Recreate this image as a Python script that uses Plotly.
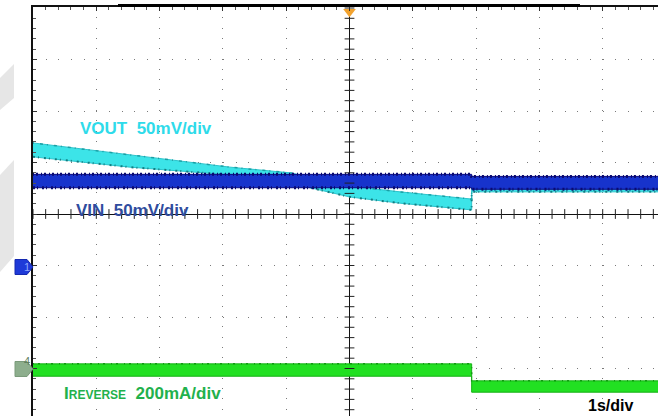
import numpy as np
import plotly.graph_objects as go

# ---------------- data (screen divisions; x: 1 s/div, centre = trigger) -------------
time_vout = [-5.0, -3.47, -1.89, -0.94, 0.01, 0.80, 1.93, 1.93, 4.9]
vout_upper = [1.38, 1.15, 0.91, 0.80, 0.54, 0.43, 0.29, 0.62, 0.62]
vout_lower = [1.11, 0.91, 0.76, 0.60, 0.33, 0.21, 0.08, 0.43, 0.43]

time_vin = [-5.0, 1.93, 1.93, 4.9]
vin_upper = [0.77, 0.77, 0.73, 0.73]
vin_lower = [0.51, 0.51, 0.48, 0.48]

time_irev = [-5.0, 1.93, 1.93, 4.9]
irev_upper = [-2.91, -2.91, -3.24, -3.24]
irev_lower = [-3.15, -3.15, -3.46, -3.46]

labels = ["VOUT  50mV/div", "VIN  50mV/div", "200mA/div", "1s/div"]

# ---------------- layout geometry ----------------
W, H = 658, 416
ML, MT = 33, 7
PW, PH = W - ML, H - MT
X_C, X_DIV = 349.5, 63.3
Y_C, Y_DIV = 214.0, 51.5
XR = [(ML - X_C) / X_DIV, (W - X_C) / X_DIV]
YR = [(Y_C - H) / Y_DIV, (Y_C - MT) / Y_DIV]


def tx(px):
    return (px - X_C) / X_DIV


def ty(py):
    return (Y_C - py) / Y_DIV


def pxp(px):
    return (px - ML) / PW


def pyp(py):
    return (H - py) / PH


def band(t, up, lo):
    return list(t) + list(t)[::-1], list(up) + list(lo)[::-1]


def edge(t, y, color, width, dash):
    return go.Scatter(x=t, y=y, mode="lines", line=dict(color=color, width=width, dash=dash),
                      hoverinfo="skip", showlegend=False)


fig = go.Figure()

bx, by = band(time_vout, vout_upper, vout_lower)
fig.add_trace(go.Scatter(x=bx, y=by, fill="toself", fillcolor="#3CE4E8",
                         line=dict(color="#2AC4CC", width=1), mode="lines",
                         hoverinfo="skip", showlegend=False))
fig.add_trace(edge(time_vout, vout_lower, "#137C80", 2, "2px,3px,1px,5px"))
fig.add_trace(edge(time_vout, vout_upper, "#1A9FA4", 1.5, "1px,6px,3px,4px"))

bx, by = band(time_vin, vin_upper, vin_lower)
fig.add_trace(go.Scatter(x=bx, y=by, fill="toself", fillcolor="#1733CC",
                         line=dict(color="#0A0A80", width=1), mode="lines",
                         hoverinfo="skip", showlegend=False))
fig.add_trace(edge(time_vin, vin_upper, "#0A0A70", 3, "1px,2px,2px,3px"))
fig.add_trace(edge(time_vin, vin_lower, "#0A0A70", 3, "2px,2px,1px,4px"))

bx, by = band(time_irev, irev_upper, irev_lower)
fig.add_trace(go.Scatter(x=bx, y=by, fill="toself", fillcolor="#22E022",
                         line=dict(color="#16B016", width=1), mode="lines",
                         hoverinfo="skip", showlegend=False))
fig.add_trace(edge(time_irev, irev_upper, "#139A13", 1.5, "1px,4px,2px,6px"))

# centre-axis minor ticks
hx = np.arange(-5.0, 5.0, 0.2)
fig.add_trace(go.Scatter(x=hx, y=np.zeros_like(hx), mode="markers",
                         marker=dict(symbol="line-ns", size=7,
                                     line=dict(color="#222", width=1)),
                         hoverinfo="skip", showlegend=False))
vy = np.arange(-3.8, 4.01, 0.2)
fig.add_trace(go.Scatter(x=np.zeros_like(vy), y=vy, mode="markers",
                         marker=dict(symbol="line-ew", size=7,
                                     line=dict(color="#222", width=1)),
                         hoverinfo="skip", showlegend=False))

# trigger marker
fig.add_trace(go.Scatter(x=[0], y=[YR[1] - 0.09], mode="markers", cliponaxis=False,
                         marker=dict(symbol="triangle-down", size=11, color="#F2A22E",
                                     line=dict(width=0)),
                         hoverinfo="skip", showlegend=False))

shapes = []
# watermark grey shapes on the left
for pts in ([(0, 78), (14, 64), (14, 98), (0, 110)],
            [(0, 175), (14, 160), (14, 256), (0, 272)]):
    path = "M " + " L ".join(f"{pxp(a):.5f},{pyp(b):.5f}" for a, b in pts) + " Z"
    shapes.append(dict(type="path", path=path, xref="paper", yref="paper",
                       fillcolor="#E6E6E6", line=dict(width=0), layer="below"))

# record bar on top
shapes.append(dict(type="line", xref="paper", yref="paper",
                   x0=pxp(118), x1=pxp(580), y0=pyp(5.5), y1=pyp(5.5),
                   line=dict(color="black", width=3)))


def chan_marker(yc, fill, edge_c):
    pts = [(15, yc - 7.5), (27, yc - 7.5), (33, yc), (27, yc + 7.5), (15, yc + 7.5)]
    path = "M " + " L ".join(f"{pxp(a):.5f},{pyp(b):.5f}" for a, b in pts) + " Z"
    return dict(type="path", path=path, xref="paper", yref="paper",
                fillcolor=fill, line=dict(color=edge_c, width=1))


shapes.append(chan_marker(267, "#1F3AD8", "#1428B0"))
shapes.append(chan_marker(369, "#8DAE8D", "#7A9A7A"))

FONT = "Liberation Sans, Arial, sans-serif"
ann = []
ann.append(dict(x=pxp(22), y=pyp(267), xref="paper", yref="paper", text="1",
                showarrow=False, font=dict(family=FONT, size=11, color="#8FA8FF")))
ann.append(dict(x=pxp(22), y=pyp(369), xref="paper", yref="paper", text="4",
                showarrow=False, font=dict(family=FONT, size=11, color="#5F7F5F")))
ann.append(dict(x=tx(78), y=ty(128), text="<b>" + labels[0] + "</b>", showarrow=False,
                xanchor="left", yanchor="middle",
                font=dict(family=FONT, size=17, color="#2EDBEA")))
ann.append(dict(x=tx(74), y=ty(210), text="<b>" + labels[1] + "</b>", showarrow=False,
                xanchor="left", yanchor="middle",
                font=dict(family=FONT, size=17, color="#2F4C9E")))
ann.append(dict(x=tx(62), y=ty(393),
                text="<b>I<span style='font-size:12px'>REVERSE</span>  " + labels[2] + "</b>",
                showarrow=False, xanchor="left", yanchor="middle",
                font=dict(family=FONT, size=17, color="#22B14C")))
ann.append(dict(x=tx(586), y=ty(405), text="<b>" + labels[3] + "</b>", showarrow=False,
                xanchor="left", yanchor="middle",
                font=dict(family=FONT, size=16, color="black")))

fig.update_layout(
    width=W, height=H, margin=dict(l=ML, r=0, t=MT, b=0),
    paper_bgcolor="white", plot_bgcolor="white",
    shapes=shapes, annotations=ann, showlegend=False,
    xaxis=dict(range=XR, side="top", dtick=1, tick0=0, showticklabels=False,
               showgrid=True, gridcolor="#7A7A7A", gridwidth=1, griddash="1px,9.3px",
               zeroline=True, zerolinecolor="#111", zerolinewidth=1.3,
               showline=True, linecolor="#111", linewidth=1.5,
               ticks="inside", ticklen=4, tickcolor="#333",
               minor=dict(ticks="inside", dtick=0.2, ticklen=3, tickcolor="#555"),
               fixedrange=True),
    yaxis=dict(range=YR, dtick=1, tick0=0, showticklabels=False,
               showgrid=True, gridcolor="#7A7A7A", gridwidth=1, griddash="1px,11.66px",
               zeroline=True, zerolinecolor="#111", zerolinewidth=1.3,
               showline=True, linecolor="#111", linewidth=1.5,
               ticks="inside", ticklen=4, tickcolor="#333",
               minor=dict(ticks="inside", dtick=0.2, ticklen=3, tickcolor="#555"),
               fixedrange=True),
)

fig.write_html("out.html", config={"displayModeBar": False},
               post_script="document.body.style.margin='0';document.body.style.overflow='hidden';")
